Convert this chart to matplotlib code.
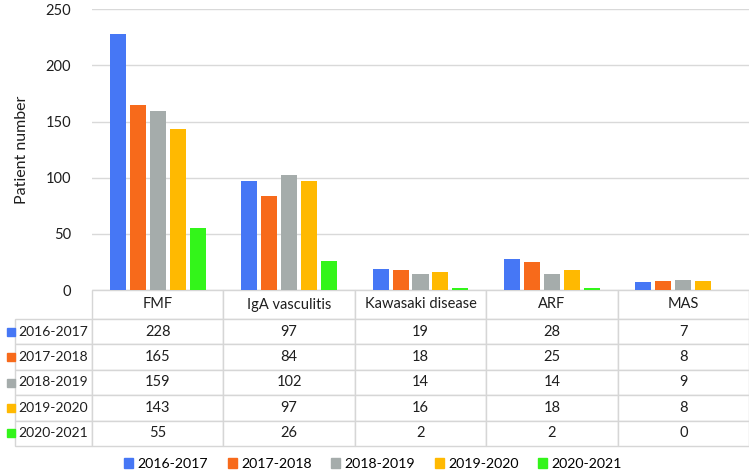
import numpy as np
import matplotlib
matplotlib.use("Agg")
import matplotlib.pyplot as plt
from matplotlib.patches import Patch

plt.rcParams['font.family'] = ['Lato', 'DejaVu Sans']

categories = ["FMF", "IgA vasculitis", "Kawasaki disease", "ARF", "MAS"]
seasons = ["2016-2017", "2017-2018", "2018-2019", "2019-2020", "2020-2021"]
values = {
    "2016-2017": [228, 97, 19, 28, 7],
    "2017-2018": [165, 84, 18, 25, 8],
    "2018-2019": [159, 102, 14, 14, 9],
    "2019-2020": [143, 97, 16, 18, 8],
    "2020-2021": [55, 26, 2, 2, 0],
}
colors = ["#4677F5", "#F76A1B", "#A5ACAB", "#FFB901", "#33F51A"]
yticks = [0, 50, 100, 150, 200, 250]
txt = "#1E1E1E"

W, H = 749, 475
fig = plt.figure(figsize=(W / 100, H / 100), dpi=100)
ax_l, ax_r, ax_b, ax_t = 92, 749, 290, 9.3
ax = fig.add_axes([ax_l / W, 1 - ax_b / H, (ax_r - ax_l) / W, (ax_b - ax_t) / H])

x = np.arange(len(categories))
pitch = 0.152
width = 0.122
for i, s in enumerate(seasons):
    ax.bar(x + (i - 2) * pitch, values[s], width, color=colors[i], zorder=3)

ax.set_xlim(-0.5, len(categories) - 0.5)
ax.set_ylim(0, 250)
ax.set_yticks(yticks)
ax.set_xticks([])
ax.tick_params(axis='y', length=0, pad=15, labelsize=10.5, labelcolor=txt)
ax.grid(axis='y', color="#D9D9D9", linewidth=1, zorder=0)
for sp in ax.spines.values():
    sp.set_visible(False)
ax.set_ylabel("Patient number", fontsize=11.5, labelpad=12, color=txt)

# data table under the bars, sizes in axes fractions
axw = ax_r - ax_l
axh = ax_b - ax_t
head_h, row_h = 29 / axh, 25.4 / axh
lab_w = ax_l / axw
col_w = 1 / len(categories)
cell_text = [[str(v) for v in values[s]] for s in seasons]
tbl = ax.table(cellText=cell_text, rowLabels=seasons, colLabels=categories,
               cellLoc='center', rowLoc='right', colLoc='center', loc='bottom')
tbl.auto_set_font_size(False)
tbl.set_fontsize(10.5)
for (r, c), cell in tbl.get_celld().items():
    cell.set_edgecolor("#D6D6D6")
    cell.set_linewidth(1)
    cell.get_text().set_color(txt)
    if c == -1:
        cell.set_width(lab_w)
        cell.PAD = 0.055
        cell.get_text().set_fontsize(10)
    else:
        cell.set_width(col_w)
    cell.set_height(head_h if r == 0 else row_h)

# colored keys in row labels
for i, s in enumerate(seasons):
    yc = -(head_h + row_h * (i + 0.5))
    ax.plot([-(ax_l - 10.5) / axw], [yc], marker='s', markersize=6.3,
            color=colors[i], transform=ax.transAxes, clip_on=False)

handles = [Patch(color=colors[i], label=s) for i, s in enumerate(seasons)]
fig.legend(handles=handles, loc='center', bbox_to_anchor=(0.498, 1 - 464 / H), ncol=5,
           frameon=False, fontsize=10.2, handlelength=0.65, handleheight=0.65,
           handletextpad=0.3, columnspacing=1.37)

fig.savefig("out.png", dpi=100)
